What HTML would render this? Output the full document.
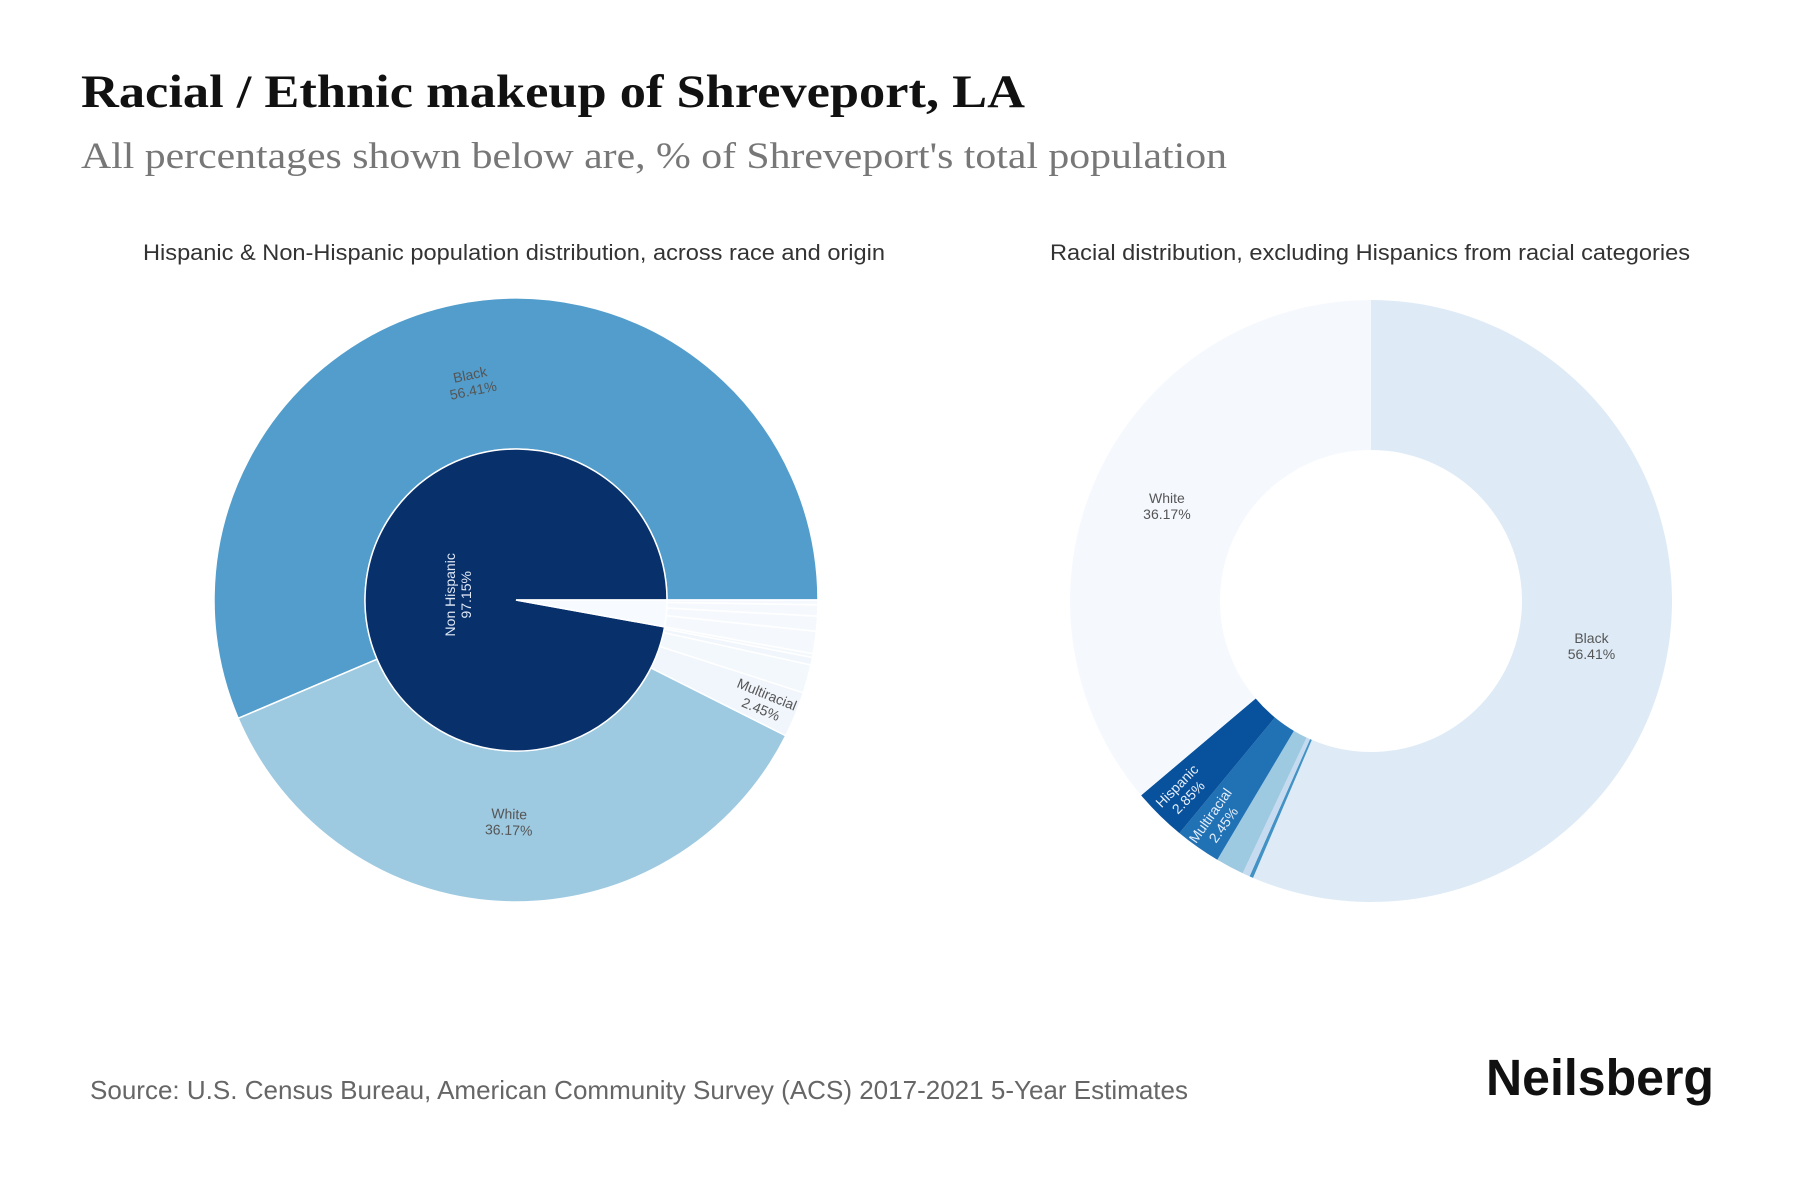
<!DOCTYPE html>
<html><head><meta charset="utf-8"><style>
html,body{margin:0;padding:0;background:#fff;}
svg{display:block;}
</style></head>
<body>
<svg id="chart" width="1800" height="1200" viewBox="0 0 1800 1200" xmlns="http://www.w3.org/2000/svg">
<text x="81" y="107" font-family="Liberation Serif, serif" font-weight="bold" font-size="47" fill="#111" textLength="944" lengthAdjust="spacingAndGlyphs">Racial / Ethnic makeup of Shreveport, LA</text>
<text x="81" y="168" font-family="Liberation Serif, serif" font-size="37" fill="#777" textLength="1146" lengthAdjust="spacingAndGlyphs">All percentages shown below are, % of Shreveport's total population</text>
<text x="514" y="260" text-anchor="middle" font-family="Liberation Sans, sans-serif" font-size="22" fill="#333" textLength="742" lengthAdjust="spacingAndGlyphs">Hispanic &amp; Non-Hispanic population distribution, across race and origin</text>
<text x="1370" y="260" text-anchor="middle" font-family="Liberation Sans, sans-serif" font-size="22" fill="#333" textLength="640" lengthAdjust="spacingAndGlyphs">Racial distribution, excluding Hispanics from racial categories</text>
<g id="left"></g>
<g id="right"></g>
<text x="90" y="1099" font-family="Liberation Sans, sans-serif" font-size="26" fill="#666" textLength="1098" lengthAdjust="spacingAndGlyphs">Source: U.S. Census Bureau, American Community Survey (ACS) 2017-2021 5-Year Estimates</text>
<text x="1486" y="1095" font-family="Liberation Sans, sans-serif" font-weight="bold" font-size="51" fill="#111" textLength="228" lengthAdjust="spacingAndGlyphs">Neilsberg</text>
</svg>
<script>
// Left chart data (counter-clockwise from east)
const innerLabels = ["Non Hispanic", "Hispanic"];
const innerValues = [97.15, 2.85];
const outerLabels = ["Black", "White", "Multiracial", "Asian", "American Indian", "Other", "Hispanic White", "Hispanic Other", "Hispanic Multi", "Hispanic Black"];
const outerValues = [56.41, 36.17, 2.45, 1.52, 0.4, 0.2, 1.2, 0.8, 0.6, 0.25];
const outerShowLabel = [true, true, true, false, false, false, false, false, false, false];
// Right chart data (clockwise from north)
const rightLabels = ["Black", "Other", "American Indian", "Asian", "Multiracial", "Hispanic", "White"];
const rightValues = [56.41, 0.2, 0.4, 1.52, 2.45, 2.85, 36.17];
const rightShowLabel = [true, false, false, false, true, true, true];

const NS = "http://www.w3.org/2000/svg";
const outerColors = {"Black":"#529dcc","White":"#9ecae1","Multiracial":"#f1f6fc","Asian":"#f3f8fd","American Indian":"#f1f6fc","Other":"#f3f8fd"};
const rightColors = {"Black":"#deebf7","Other":"#4292c6","American Indian":"#c6dbef","Asian":"#9ecae1","Multiracial":"#2171b5","Hispanic":"#08519c","White":"#f5f9fe"};

function pt(cx, cy, r, screenDeg){ const a = screenDeg*Math.PI/180; return [cx + r*Math.cos(a), cy + r*Math.sin(a)]; }
function arcPath(cx, cy, r0, r1, a0, a1){
  const large = (a1 - a0) > 180 ? 1 : 0;
  const p1 = pt(cx,cy,r1,a0), p2 = pt(cx,cy,r1,a1);
  if (r0 <= 0) return `M${cx},${cy}L${p1[0]},${p1[1]}A${r1},${r1} 0 ${large} 1 ${p2[0]},${p2[1]}Z`;
  const p3 = pt(cx,cy,r0,a1), p4 = pt(cx,cy,r0,a0);
  return `M${p1[0]},${p1[1]}A${r1},${r1} 0 ${large} 1 ${p2[0]},${p2[1]}L${p3[0]},${p3[1]}A${r0},${r0} 0 ${large} 0 ${p4[0]},${p4[1]}Z`;
}
function addLabel(g, x, y, rot, lines, color, size){
  const t = document.createElementNS(NS, "text");
  
  
  t.setAttribute("text-anchor","middle");
  t.setAttribute("font-family","Liberation Sans, sans-serif");
  t.setAttribute("font-size", size);
  t.setAttribute("fill", color);
  t.setAttribute("transform", `translate(${x},${y}) rotate(${rot})`);
  lines.forEach((s,i)=>{
    const ts = document.createElementNS(NS,"tspan");
    ts.setAttribute("x",0); ts.setAttribute("y", (i - (lines.length-1)/2)*size*1.15 + size*0.35);
    ts.textContent = s; t.appendChild(ts);
  });
  g.appendChild(t);
}
function norm(r){ r = ((r % 360)+360)%360; if (r > 180) r -= 360; if (r > 90) r -= 180; if (r < -90) r += 180; return r; }

// LEFT sunburst
const L = document.getElementById("left");
const lcx = 516, lcy = 600, lr0 = 151, lr1 = 302;
let acc = 0;
outerValues.forEach((v,i)=>{
  const a1 = -acc*3.6, a0 = -(acc+v)*3.6;
  const p = document.createElementNS(NS,"path");
  
  
  p.setAttribute("d", arcPath(lcx,lcy,lr0,lr1,a0,a1));
  p.setAttribute("fill", outerColors[outerLabels[i]] || "#f5f9fe");
  p.setAttribute("stroke","#fff"); p.setAttribute("stroke-width","1.5");
  L.appendChild(p);
  if (outerShowLabel[i]){
    const mid = (a0+a1)/2;
    const big = v > 10;
    const [x,y] = pt(lcx,lcy,big ? 222 : 268,mid);
    const rot = big ? norm(mid+90) : norm(mid);
    addLabel(L, x, y, rot, [outerLabels[i], v.toFixed(2)+"%"], "#555", 14);
  }
  acc += v;
});
acc = 0;
innerValues.forEach((v,i)=>{
  const a1 = -acc*3.6, a0 = -(acc+v)*3.6;
  const p = document.createElementNS(NS,"path");
  
  
  p.setAttribute("d", arcPath(lcx,lcy,0,lr0,a0,a1));
  p.setAttribute("fill", i===0 ? "#08306b" : "#f7fbff");
  p.setAttribute("stroke","#fff"); p.setAttribute("stroke-width","1.5");
  L.appendChild(p);
  if (i===0){
    const mid = (a0+a1)/2; const [x,y] = pt(lcx,lcy,58,mid);
    addLabel(L, x, y, -90, [innerLabels[i], v.toFixed(2)+"%"], "#dfe8f5", 14);
  }
  acc += v;
});

// RIGHT donut
const R = document.getElementById("right");
const rcx = 1371, rcy = 601, rr0 = 151, rr1 = 301;
acc = 0;
rightValues.forEach((v,i)=>{
  const a0 = -90 + acc*3.6, a1 = -90 + (acc+v)*3.6;
  const p = document.createElementNS(NS,"path");
  
  
  p.setAttribute("d", arcPath(rcx,rcy,rr0,rr1,a0,a1));
  p.setAttribute("fill", rightColors[rightLabels[i]]);
  R.appendChild(p);
  if (rightShowLabel[i]){
    const mid = (a0+a1)/2;
    const big = v > 10;
    const [x,y] = pt(rcx,rcy,big ? 225 : 268,mid);
    addLabel(R, x, y, big ? 0 : norm(mid), [rightLabels[i], v.toFixed(2)+"%"], big ? "#555" : "#e6eef8", 14);
  }
  acc += v;
});
</script>
</body></html>
